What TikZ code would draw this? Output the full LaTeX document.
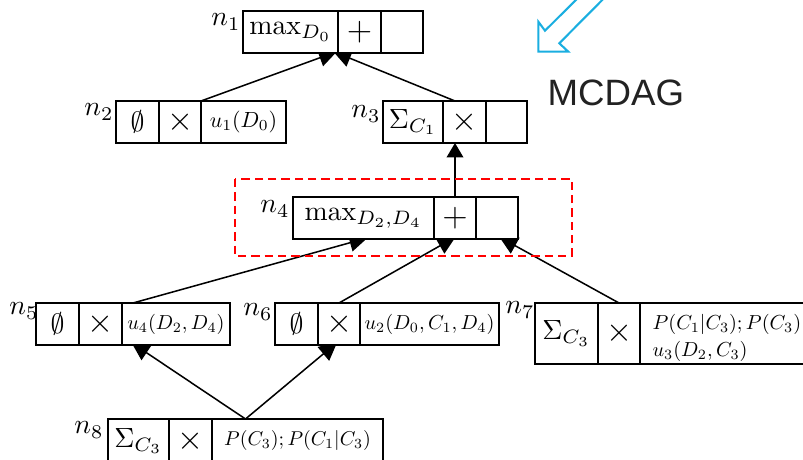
\documentclass[tikz,border=0pt]{standalone}
\usepackage{fontspec}
\usepackage{graphicx}
\newfontfamily\sansf{Liberation Sans}
\usetikzlibrary{arrows.meta,calc,backgrounds}
\newcommand{\PX}{0.36pt}
\newcommand{\sm}[2]{\scalebox{#1}{$#2$}}
\definecolor{blueA}{HTML}{1AAEE0}
\definecolor{darktext}{HTML}{222222}
\tikzset{
 cell/.style={draw, line width=0.5pt, fill=white, inner sep=0pt, outer sep=0pt, minimum height=42*\PX},
 op/.style={font=\large},
 lbl/.style={inner sep=0pt},
 arr/.style={line width=0.55pt, -{Triangle[length=5.2pt,width=6pt]}},
 sarr/.style={line width=0.55pt, -{Triangle[length=6.5pt,width=6.4pt]}, shorten >=-1.5pt},
}
\begin{document}
\begin{tikzpicture}[x=0.36pt,y=-0.36pt]
\useasboundingbox (0,0) rectangle (803,460);
\clip (0,0) rectangle (803,460);
% n1
\node[cell, minimum width=95*\PX] (n1a) at (290.5,32) {$\max_{D_0}$};
\node[cell, op, minimum width=43*\PX] (n1b) at (359.5,32) {$+$};
\node[cell, minimum width=42*\PX] (n1c) at (402,32) {};
\node[lbl] (l1) at (226,22) {$n_1$};
% n2
\node[cell, minimum width=43*\PX] (n2a) at (137.5,122) {$\emptyset$};
\node[cell, op, minimum width=42*\PX] (n2b) at (180,122) {$\times$};
\node[cell, minimum width=85*\PX] (n2c) at (243.5,122) {\sm{0.79}{u_1(D_0)}};
\node[lbl] (l2) at (99,112) {$n_2$};
% n3
\node[cell, minimum width=60*\PX] (n3a) at (413,122) {$\Sigma_{C_1}$};
\node[cell, op, minimum width=43*\PX] (n3b) at (464.5,122) {$\times$};
\node[cell, minimum width=41*\PX] (n3c) at (506.5,122) {};
\node[lbl] (l3) at (366,114) {$n_3$};
% n4
\node[cell, minimum width=141*\PX] (n4a) at (363.5,218) {$\max_{D_2,D_4}$};
\node[cell, op, minimum width=42*\PX] (n4b) at (455,218) {$+$};
\node[cell, minimum width=42*\PX] (n4c) at (497,218) {};
\node[lbl] (l4) at (275,209) {$n_4$};
% n5
\node[cell, minimum width=43*\PX] (n5a) at (57.5,324) {$\emptyset$};
\node[cell, op, minimum width=43*\PX] (n5b) at (100.5,324) {$\times$};
\node[cell, minimum width=108*\PX] (n5c) at (176,324) {\sm{0.73}{u_4(D_2,D_4)}};
\node[lbl] (l5) at (24,311) {$n_5$};
% n6
\node[cell, minimum width=43*\PX] (n6a) at (296.5,324) {$\emptyset$};
\node[cell, op, minimum width=42*\PX] (n6b) at (339,324) {$\times$};
\node[cell, minimum width=139*\PX] (n6c) at (429.5,324) {\sm{0.73}{u_2(D_0,C_1,D_4)}};
\node[lbl] (l6) at (258,312) {$n_6$};
% n7
\node[cell, minimum height=61*\PX, minimum width=63*\PX] (n7a) at (566.5,333.5) {$\Sigma_{C_3}$};
\node[cell, op, minimum height=61*\PX, minimum width=42*\PX] (n7b) at (619,333.5) {$\times$};
\node[cell, minimum height=61*\PX, minimum width=190*\PX] (n7c) at (735,333.5) {};
\node[anchor=west, align=left, inner sep=0pt, font=\fontsize{10}{9.7}\selectfont] (n7t) at (652,338) {\sm{0.73}{P(C_1|C_3); P(C_3)}\\ \sm{0.73}{u_3(D_2,C_3)}};
\node[lbl] (l7) at (520,310) {$n_7$};
% n8
\node[cell, minimum height=44*\PX, minimum width=61*\PX] (n8a) at (138.5,441) {$\Sigma_{C_3}$};
\node[cell, op, minimum height=44*\PX, minimum width=43*\PX] (n8b) at (190.5,441) {$\times$};
\node[cell, minimum height=44*\PX, minimum width=171*\PX] (n8c) at (297.5,441) {\sm{0.72}{P(C_3); P(C_1|C_3)}};
\node[lbl] (l8) at (89,430) {$n_8$};
\coordinate (n8top) at ($(n8a.north west)!0.5!(n8c.north east)$);
% connectors
\begin{scope}[on background layer]
\draw[sarr] (n2c.north west) -- ($(n1a.south east)+(-5,0)$);
\draw[sarr] ($(n3b.north west)+(12,0)$) -- ($(n1a.south east)+(-1,0)$);
\draw[arr] (n4b.north) -- (n4b.north |- n3b.south);
\draw[sarr] ($(n5c.north west)+(11,0)$) -- (n4a.south);
\draw[sarr] (n6b.north) -- ($(n4b.south)+(-3,0)$);
\draw[sarr] (n7b.north) -- ($(n4c.south)+(6,0)$);
\draw[sarr] (n8top) -- ($(n5c.south west)+(13,0)$);
\draw[sarr] (n8top) -- ($(n6b.south)+(-5,0)$);
\end{scope}
% dashed frame
\draw[red, line width=0.7pt, dash pattern=on 3pt off 1.8pt] (235,179) rectangle (572,256);
% MCDAG
\node[anchor=base west, inner sep=0pt, font=\sansf\fontsize{13.2}{16}\selectfont, text=darktext] (mcdag) at (547,106) {MCDAG};
\draw[blueA, line width=0.75pt, line join=miter] (632,-30) -- (559.3,43.3) -- (568.3,51.7) -- (538.3,51.7) -- (538.3,21.7) -- (545,30.7) -- (606,-30);
\end{tikzpicture}
\end{document}
